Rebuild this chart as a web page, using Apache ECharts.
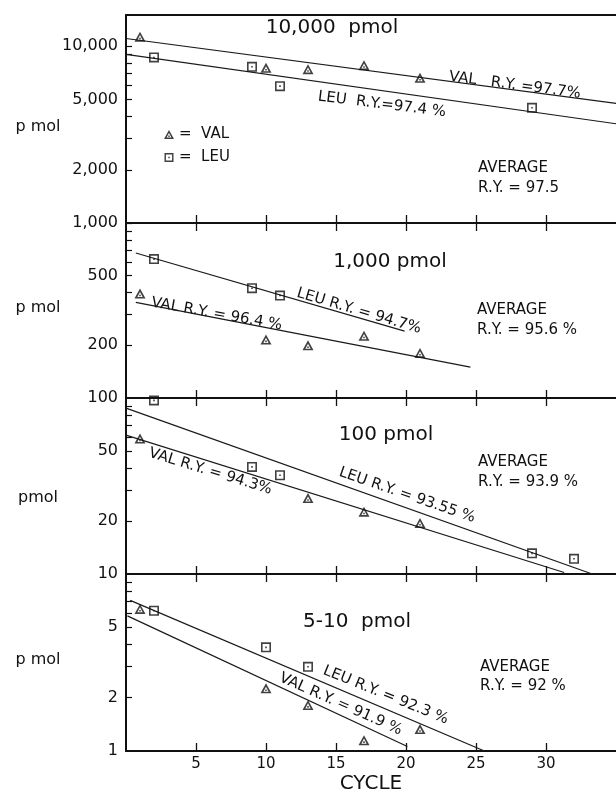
<!DOCTYPE html>
<html>
<head>
<meta charset="utf-8">
<script src="https://cdn.jsdelivr.net/npm/echarts@6/dist/echarts.min.js"></script>
<style>
html, body { margin: 0; padding: 0; background: #fff; }
#chart { width: 616px; height: 791px; }
</style>
</head>
<body>
<div id="chart"></div>
<script>
// x axis (cycle)
var cycleTicks = [5, 10, 15, 20, 25, 30];

// 10,000 pmol panel
var range10k = [1000, 15000];
var ticks10k = [2000, 3000, 4000, 5000, 6000, 7000, 8000, 9000, 10000];
var labels10k = [2000, 5000, 10000];
var val10kCycle = [1, 10, 13, 17, 21];
var val10k = [11300, 7540, 7410, 7810, 6620];
var leu10kCycle = [2, 9, 11, 29];
var leu10k = [8630, 7640, 5940, 4480];
var val10kFitCycle = [0, 35];
var val10kFit = [11050, 4750];
var leu10kFitCycle = [0, 35];
var leu10kFit = [8980, 3640];

// 1,000 pmol panel
var range1k = [100, 1000];
var ticks1k = [200, 300, 400, 500, 600, 700, 800, 900, 1000];
var labels1k = [100, 200, 500, 1000];
var val1kCycle = [1, 10, 13, 17, 21];
var val1k = [395, 216, 200, 227, 181];
var leu1kCycle = [2, 9, 11];
var leu1k = [622, 424, 385];
var val1kFitCycle = [0.7, 24.6];
var val1kFit = [352, 150];
var leu1kFitCycle = [0.7, 19.9];
var leu1kFit = [674, 241];

// 100 pmol panel
var range100 = [10, 100];
var ticks100 = [20, 30, 40, 50, 60, 70, 80, 90];
var labels100 = [10, 20, 50];
var val100Cycle = [1, 13, 17, 21];
var val100 = [58.9, 27.0, 22.6, 19.5];
var leu100Cycle = [2, 9, 11, 29, 32];
var leu100 = [96.9, 40.6, 36.4, 13.1, 12.2];
var val100FitCycle = [0, 31.3];
var val100Fit = [61.5, 10.2];
var leu100FitCycle = [0, 33.3];
var leu100Fit = [87.6, 10];

// 5-10 pmol panel
var range10 = [1, 10];
var ticks10 = [2, 3, 4, 5, 6, 7, 8, 9];
var labels10 = [1, 2, 5];
var val10Cycle = [1, 10, 13, 17, 21];
var val10 = [6.35, 2.26, 1.82, 1.15, 1.33];
var leu10Cycle = [2, 10, 13];
var leu10 = [6.2, 3.85, 2.99];
var val10FitCycle = [0.1, 20.1];
var val10Fit = [5.8, 1.06];
var leu10FitCycle = [0.3, 25.6];
var leu10Fit = [7.1, 1.0];

var ink = '#111';
var fam = '"DejaVu Sans", sans-serif';
// open triangle / open square, each with a dot in the middle
var triPath = 'path://M5,0L10,9L0,9Z M5,3L2.6,7.6L7.4,7.6Z M4.3,5.5L5.7,5.5L5.7,6.9L4.3,6.9Z';
var sqPath = 'path://M0,0L10,0L10,10L0,10Z M1.6,1.6L1.6,8.4L8.4,8.4L8.4,1.6Z M4.2,4.2L5.8,4.2L5.8,5.8L4.2,5.8Z';

var panels = [
  { range: range10k, ticks: ticks10k, labels: labels10k, top: 15, height: 208,
    val: [val10kCycle, val10k], leu: [leu10kCycle, leu10k],
    valFit: [val10kFitCycle, val10kFit], leuFit: [leu10kFitCycle, leu10kFit] },
  { range: range1k, ticks: ticks1k, labels: labels1k, top: 223, height: 175,
    val: [val1kCycle, val1k], leu: [leu1kCycle, leu1k],
    valFit: [val1kFitCycle, val1kFit], leuFit: [leu1kFitCycle, leu1kFit] },
  { range: range100, ticks: ticks100, labels: labels100, top: 398, height: 176,
    val: [val100Cycle, val100], leu: [leu100Cycle, leu100],
    valFit: [val100FitCycle, val100Fit], leuFit: [leu100FitCycle, leu100Fit] },
  { range: range10, ticks: ticks10, labels: labels10, top: 574, height: 177,
    val: [val10Cycle, val10], leu: [leu10Cycle, leu10],
    valFit: [val10FitCycle, val10Fit], leuFit: [leu10FitCycle, leu10Fit] }
];

function pairs(xs, ys) {
  return xs.map(function (x, i) { return [x, ys[i]]; });
}
function logs(arr) {
  return arr.map(function (v) { return Math.log10(v); });
}
function commas(v) {
  return String(Math.round(v)).replace(/\B(?=(\d{3})+(?!\d))/g, ',');
}

var grid = [], xAxis = [], yAxis = [], series = [];
var axisLine = { show: true, onZero: false, lineStyle: { color: ink, width: 2 } };

panels.forEach(function (p, i) {
  var last = i === panels.length - 1;
  grid.push({ left: 126, right: 0, top: p.top, height: p.height, outerBoundsMode: 'none' });

  // bottom axis holds the data
  xAxis.push({
    type: 'value', gridIndex: i, min: 0, max: 35, position: 'bottom',
    axisLine: axisLine,
    axisTick: { show: true, inside: true, length: 8, customValues: cycleTicks, lineStyle: { color: ink, width: 1.3 } },
    axisLabel: { show: last, customValues: cycleTicks, margin: 6, fontSize: 15, fontFamily: fam, color: ink },
    splitLine: { show: false },
    name: last ? 'CYCLE' : '', nameLocation: 'middle', nameGap: 23,
    nameTextStyle: { fontSize: 20, fontFamily: fam, color: ink }
  });
  // top border with hanging ticks
  xAxis.push({
    type: 'value', gridIndex: i, min: 0, max: 35, position: 'top',
    axisLine: axisLine,
    axisTick: { show: i > 0, inside: true, length: 8, customValues: cycleTicks, lineStyle: { color: ink, width: 1.3 } },
    axisLabel: { show: false },
    splitLine: { show: false }
  });

  // labelled axis, laid out in decades
  yAxis.push({
    type: 'value', gridIndex: i, min: Math.log10(p.range[0]), max: Math.log10(p.range[1]),
    axisLine: axisLine,
    axisTick: { show: true, inside: true, length: 6, customValues: logs(p.ticks), lineStyle: { color: ink, width: 1.2 } },
    axisLabel: {
      customValues: logs(p.labels), margin: 8, fontSize: 16, fontFamily: fam, color: ink,
      formatter: function (v) { return commas(Math.pow(10, v)); }
    },
    splitLine: { show: false }
  });
  // log axis the points are plotted on
  yAxis.push({ type: 'log', gridIndex: i, min: p.range[0], max: p.range[1], show: false });

  var ax = { xAxisIndex: 2 * i, yAxisIndex: 2 * i + 1 };
  series.push(Object.assign({
    type: 'scatter', name: 'VAL', data: pairs(p.val[0], p.val[1]),
    symbol: triPath, symbolSize: [11, 10], itemStyle: { color: ink }, z: 4
  }, ax));
  series.push(Object.assign({
    type: 'scatter', name: 'LEU', data: pairs(p.leu[0], p.leu[1]),
    symbol: sqPath, symbolSize: 10, itemStyle: { color: ink }, z: 4
  }, ax));
  series.push(Object.assign({
    type: 'line', name: 'VAL fit', data: pairs(p.valFit[0], p.valFit[1]),
    symbol: 'none', lineStyle: { color: '#1a1a1a', width: 1.2 }, z: 3
  }, ax));
  series.push(Object.assign({
    type: 'line', name: 'LEU fit', data: pairs(p.leuFit[0], p.leuFit[1]),
    symbol: 'none', lineStyle: { color: '#1a1a1a', width: 1.2 }, z: 3
  }, ax));
});

function txt(x, y, s, size, deg, align, valign) {
  return {
    type: 'text', x: x, y: y, silent: true,
    rotation: -(deg || 0) * Math.PI / 180,
    style: {
      text: s, fill: ink, fontSize: size, fontFamily: fam,
      align: align || 'left', verticalAlign: valign || 'middle',
      textAlign: align || 'left', textVerticalAlign: valign || 'middle'
    }
  };
}

var graphic = [
  // panel titles
  txt(332, 28, '10,000  pmol', 20, 0, 'center'),
  txt(390, 262, '1,000 pmol', 20, 0, 'center'),
  txt(386, 435, '100 pmol', 20, 0, 'center'),
  txt(357, 622, '5-10  pmol', 20, 0, 'center'),
  // y axis names
  txt(38, 127, 'p mol', 16, 0, 'center'),
  txt(38, 308, 'p mol', 16, 0, 'center'),
  txt(38, 498, 'pmol', 16, 0, 'center'),
  txt(38, 660, 'p mol', 16, 0, 'center'),
  // fit labels along the lines
  txt(448, 84, 'VAL   R.Y. =97.7%', 15, 7.5, 'left', 'bottom'),
  txt(317, 104, 'LEU  R.Y.=97.4 %', 15, 7, 'left', 'bottom'),
  txt(150, 310, 'VAL R.Y. = 96.4 %', 15, 10, 'left', 'bottom'),
  txt(295, 300, 'LEU R.Y. = 94.7%', 15, 16.5, 'left', 'bottom'),
  txt(147, 460, 'VAL R.Y. = 94.3%', 15, 17, 'left', 'bottom'),
  txt(337, 479, 'LEU R.Y. = 93.55 %', 15, 19, 'left', 'bottom'),
  txt(321, 677, 'LEU R.Y. = 92.3 %', 15, 22, 'left', 'bottom'),
  txt(277, 684, 'VAL R.Y. = 91.9 %', 15, 24, 'left', 'bottom'),
  // averages
  txt(478, 168, 'AVERAGE', 15),
  txt(478, 188, 'R.Y. = 97.5', 15),
  txt(477, 310, 'AVERAGE', 15),
  txt(477, 330, 'R.Y. = 95.6 %', 15),
  txt(478, 462, 'AVERAGE', 15),
  txt(478, 482, 'R.Y. = 93.9 %', 15),
  txt(480, 667, 'AVERAGE', 15),
  txt(480, 686, 'R.Y. = 92 %', 15)
];

var chart = echarts.init(document.getElementById('chart'));
chart.setOption({
  animation: false,
  backgroundColor: '#fff',
  legend: {
    data: [{ name: 'VAL', icon: triPath }, { name: 'LEU', icon: sqPath }],
    orient: 'vertical', left: 164, top: 126, padding: 0,
    itemWidth: 10, itemHeight: 9, itemGap: 6, selectedMode: false,
    formatter: '=  {name}',
    textStyle: { fontSize: 15, fontFamily: fam, color: ink, lineHeight: 17 }
  },
  grid: grid,
  xAxis: xAxis,
  yAxis: yAxis,
  series: series,
  graphic: graphic
});
</script>
</body>
</html>
